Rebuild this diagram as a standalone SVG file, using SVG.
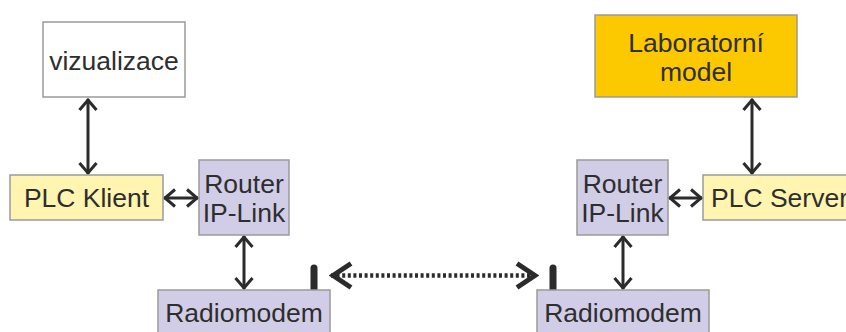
<svg xmlns="http://www.w3.org/2000/svg" width="846" height="332" viewBox="0 0 846 332">
<defs>
<style>
.box{stroke:#9a9a9a;stroke-width:1.5}
.white{fill:#ffffff}
.yellow{fill:#fff5b0}
.orange{fill:#fcc800}
.lav{fill:#d1cde6}
.t{font-family:"Liberation Sans",Arial,sans-serif;font-size:26.5px;fill:#2e2e2e;text-anchor:middle}
.c{stroke:#2b2b2b;stroke-width:3;fill:none}
.d{stroke:#2b2b2b;stroke-width:4.5;fill:none;stroke-dasharray:3 2.6}
.ant{stroke:#2b2b2b;stroke-width:7;stroke-linecap:round;fill:none}
</style>
<marker id="ah" viewBox="-14 -10 16 20" refX="0" refY="0" markerWidth="16" markerHeight="20" markerUnits="userSpaceOnUse" orient="auto-start-reverse">
<path d="M-11,-8.5 L-1,0 L-11,8.5" fill="none" stroke="#2b2b2b" stroke-width="3"/>
</marker>
<marker id="ahd" viewBox="-26 -15 28 30" refX="0" refY="0" markerWidth="28" markerHeight="30" markerUnits="userSpaceOnUse" orient="auto-start-reverse">
<path d="M-20,-12 L-2,0 L-20,12" fill="none" stroke="#2b2b2b" stroke-width="5"/>
</marker>
</defs>
<rect width="846" height="332" fill="#ffffff"/>

<g id="connectors">
<line class="c" x1="88" y1="99" x2="88" y2="174" marker-start="url(#ah)" marker-end="url(#ah)"/>
<line class="c" x1="164" y1="198" x2="198" y2="198" marker-start="url(#ah)" marker-end="url(#ah)"/>
<line class="c" x1="244" y1="236" x2="244" y2="289" marker-start="url(#ah)" marker-end="url(#ah)"/>
<line class="c" x1="752" y1="99" x2="752" y2="174" marker-start="url(#ah)" marker-end="url(#ah)"/>
<line class="c" x1="669" y1="198" x2="702" y2="198" marker-start="url(#ah)" marker-end="url(#ah)"/>
<line class="c" x1="623" y1="236" x2="623" y2="289" marker-start="url(#ah)" marker-end="url(#ah)"/>
<line class="d" x1="331" y1="275.5" x2="537" y2="275.5" marker-start="url(#ahd)" marker-end="url(#ahd)"/>
</g>

<g id="vizualizace">
<rect class="box white" x="43" y="22" width="142" height="75"/>
<text class="t" x="114" y="70">vizualizace</text>
</g>

<g id="plc-klient">
<rect class="box yellow" x="10" y="175" width="153" height="45"/>
<text class="t" x="86.5" y="207">PLC Klient</text>
</g>

<g id="router-left">
<rect class="box lav" x="199" y="160" width="90" height="75"/>
<text class="t" x="244" y="193">Router</text>
<text class="t" x="244" y="222">IP-Link</text>
</g>

<g id="radiomodem-left">
<line class="ant" x1="314" y1="268" x2="314" y2="290"/>
<rect class="box lav" x="158" y="290" width="172" height="50"/>
<text class="t" x="244" y="322">Radiomodem</text>
</g>

<g id="laboratorni-model">
<rect class="box orange" x="595" y="15" width="202" height="82"/>
<text class="t" x="696" y="52">Laboratorní</text>
<text class="t" x="696" y="81">model</text>
</g>

<g id="router-right">
<rect class="box lav" x="577" y="160" width="91" height="75"/>
<text class="t" x="622.5" y="193">Router</text>
<text class="t" x="622.5" y="222">IP-Link</text>
</g>

<g id="plc-server">
<rect class="box yellow" x="703" y="175" width="160" height="45"/>
<text class="t" x="711" y="207" style="text-anchor:start">PLC Server</text>
</g>

<g id="radiomodem-right">
<line class="ant" x1="553" y1="268" x2="553" y2="290"/>
<rect class="box lav" x="537" y="290" width="172" height="50"/>
<text class="t" x="623" y="322">Radiomodem</text>
</g>
</svg>
